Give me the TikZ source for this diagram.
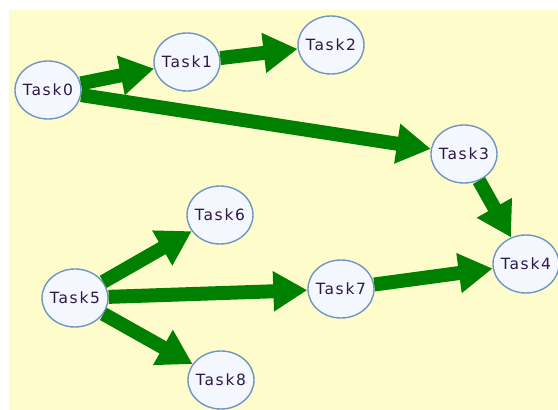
\documentclass[tikz,border=0pt]{standalone}
\usepackage{fontspec}
\setmainfont{DejaVu Sans}[LetterSpace=11]
\usetikzlibrary{arrows.meta,shapes.geometric}
\definecolor{bgyellow}{RGB}{255,252,204}
\definecolor{nodefill}{RGB}{245,247,255}
\definecolor{nodeborder}{RGB}{110,150,195}
\definecolor{edgegreen}{RGB}{0,128,0}
\definecolor{textcol}{RGB}{45,25,70}
\tikzset{
  task/.style={ellipse, draw=nodeborder, fill=nodefill, line width=1.4pt,
    minimum width=66pt, minimum height=58pt, inner xsep=-9pt, inner ysep=0pt,
    font=\fontsize{15.5pt}{16pt}\selectfont, text=textcol},
  dep/.style={draw=edgegreen, line width=14pt,
    -{Triangle[length=34pt,width=38pt]}, edgegreen}
}
\begin{document}
\begin{tikzpicture}[x=1pt,y=-1pt]
\useasboundingbox (0,0) rectangle (558,410);
\fill[white] (0,0) rectangle (558,410);
\fill[bgyellow] (9,10) rectangle (558,410);
\node[task] (t0) at (48,90) {Task0};
\node[task] (t1) at (187,62) {Task1};
\node[task] (t2) at (331,45) {Task2};
\node[task] (t3) at (464,154) {Task3};
\node[task] (t4) at (526,264) {Task4};
\node[task] (t5) at (75,298) {Task5};
\node[task] (t6) at (220,215) {Task6};
\node[task] (t7) at (341,289) {Task7};
\node[task] (t8) at (221,380) {Task8};
\draw[dep] (t0) -- (t1);
\draw[dep] (t1) -- (t2);
\draw[dep] (t0) -- (t3);
\draw[dep] (t3) -- (t4);
\draw[dep] (t5) -- (t6);
\draw[dep] (t5) -- (t7);
\draw[dep] (t5) -- (t8);
\draw[dep] (t7) -- (t4);
\end{tikzpicture}
\end{document}
